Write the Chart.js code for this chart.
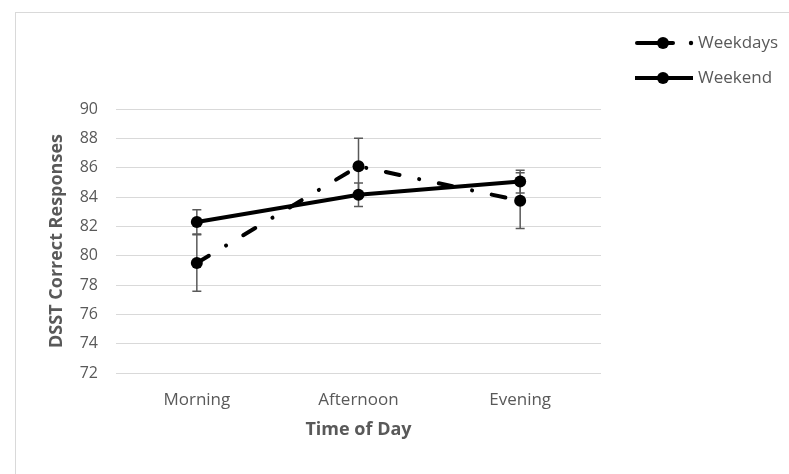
<!DOCTYPE html>
<html>
<head>
<meta charset="utf-8">
<script src="https://cdn.jsdelivr.net/npm/chart.js@4"></script>
<style>
  html, body { margin: 0; padding: 0; background: #fff; overflow: hidden; }
  #wrap { position: relative; width: 789px; height: 474px; }
  #frame { position: absolute; left: 15px; top: 12px; width: 800px; height: 500px; border: 1px solid #d9d9d9; box-sizing: border-box; }
  #chart { position: absolute; left: 0; top: 0; }
</style>
</head>
<body>
<div id="wrap">
  <div id="frame"></div>
  <canvas id="chart" width="789" height="474"></canvas>
</div>
<script>
// DSST scores by time of day, weekdays vs weekend, with error bars
const timeLabels = ['Morning', 'Afternoon', 'Evening'];
const weekdayMeans = [79.5, 86.1, 83.75];
const weekdayErr = [1.92, 1.9, 1.9];
const weekendMeans = [82.3, 84.15, 85.05];
const weekendErr = [0.83, 0.8, 0.77];
const seriesNames = ['Weekdays', 'Weekend'];

const textGray = '#595959';
const gridGray = '#d9d9d9';
const fontFamily = '"Open Sans", sans-serif';

// vertical error bars with caps, drawn under the lines
const errorBars = {
    id: 'errorBars',
    beforeDatasetsDraw(chart) {
        const ctx = chart.ctx;
        const y = chart.scales.y;
        const errs = [weekdayErr, weekendErr];
        ctx.save();
        ctx.strokeStyle = '#595959';
        ctx.lineWidth = 1.5;
        chart.data.datasets.forEach((ds, i) => {
            const meta = chart.getDatasetMeta(i);
            meta.data.forEach((pt, j) => {
                const v = ds.data[j];
                const top = y.getPixelForValue(v + errs[i][j]);
                const bot = y.getPixelForValue(v - errs[i][j]);
                ctx.beginPath();
                ctx.moveTo(pt.x, top); ctx.lineTo(pt.x, bot);
                ctx.moveTo(pt.x - 4.5, top); ctx.lineTo(pt.x + 4.5, top);
                ctx.moveTo(pt.x - 4.5, bot); ctx.lineTo(pt.x + 4.5, bot);
                ctx.stroke();
            });
        });
        ctx.restore();
    }
};

// legend stacked at the top right
const sideLegend = {
    id: 'sideLegend',
    afterDraw(chart) {
        const ctx = chart.ctx;
        const x0 = 635, x1 = 693, mx = 663;
        const rows = [43, 78];
        ctx.save();
        ctx.strokeStyle = '#000';
        ctx.fillStyle = '#000';
        ctx.lineWidth = 4;
        // weekdays: dash + marker + dot
        ctx.lineCap = 'round';
        ctx.beginPath();
        ctx.moveTo(x0 + 2, rows[0]); ctx.lineTo(673, rows[0]);
        ctx.stroke();
        ctx.beginPath(); ctx.arc(691, rows[0], 2.2, 0, Math.PI * 2); ctx.fill();
        ctx.beginPath(); ctx.arc(mx, rows[0], 6, 0, Math.PI * 2); ctx.fill();
        // weekend: solid line + marker
        ctx.lineCap = 'butt';
        ctx.beginPath();
        ctx.moveTo(x0, rows[1]); ctx.lineTo(x1, rows[1]);
        ctx.stroke();
        ctx.beginPath(); ctx.arc(mx, rows[1], 6, 0, Math.PI * 2); ctx.fill();

        ctx.fillStyle = textGray;
        ctx.font = '17px ' + fontFamily;
        ctx.textBaseline = 'middle';
        ctx.textAlign = 'left';
        ctx.fillText(seriesNames[0], 698, rows[0]);
        ctx.fillText(seriesNames[1], 698, rows[1]);
        ctx.restore();
    }
};

new Chart(document.getElementById('chart').getContext('2d'), {
    type: 'line',
    data: {
        labels: timeLabels,
        datasets: [
            {
                label: seriesNames[0], data: weekdayMeans,
                borderColor: '#000', backgroundColor: '#000', borderWidth: 4,
                borderDash: [14, 20, 0.1, 20], borderCapStyle: 'round',
                pointRadius: 6, pointBorderWidth: 0, pointBackgroundColor: '#000',
                tension: 0, fill: false
            },
            {
                label: seriesNames[1], data: weekendMeans,
                borderColor: '#000', backgroundColor: '#000', borderWidth: 4,
                pointRadius: 6, pointBorderWidth: 0, pointBackgroundColor: '#000',
                tension: 0, fill: false
            }
        ]
    },
    options: {
        responsive: false,
        animation: false,
        layout: { padding: { left: 0, right: 188, top: 109, bottom: 0 } },
        plugins: { legend: { display: false }, tooltip: { enabled: false } },
        scales: {
            x: {
                offset: true,
                grid: { display: false, drawTicks: false },
                border: { display: false },
                ticks: { color: textGray, font: { family: fontFamily, size: 17 }, padding: 17 },
                title: { display: true, text: 'Time of Day', color: textGray,
                         font: { family: fontFamily, size: 18, weight: 'bold' }, padding: { top: 0, bottom: 33 } },
                afterFit(scale) { scale.height = 101; }
            },
            y: {
                min: 72, max: 90,
                grid: { color: gridGray, lineWidth: 1, drawTicks: false },
                border: { display: false },
                ticks: { stepSize: 2, color: textGray, font: { family: fontFamily, size: 16 }, padding: 18 },
                title: { display: true, text: 'DSST Correct Responses', color: textGray,
                         font: { family: fontFamily, size: 18, weight: 'bold' }, padding: { top: 46 } },
                afterFit(scale) { scale.width = 116; }
            }
        }
    },
    plugins: [errorBars, sideLegend]
});
</script>
</body>
</html>
